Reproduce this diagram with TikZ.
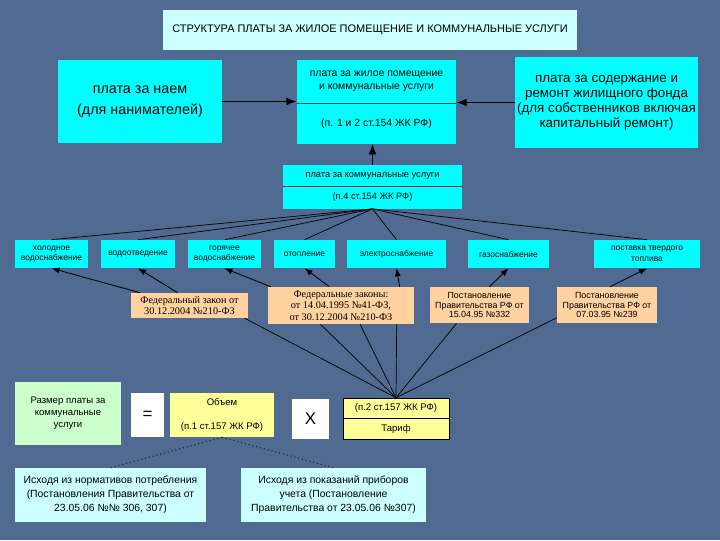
\documentclass[tikz,border=0pt]{standalone}
\usepackage{fontspec}
\setmainfont{Liberation Sans}
\newfontfamily\lawfont{Liberation Serif}
\usetikzlibrary{positioning,arrows.meta,calc}
\definecolor{bgc}{RGB}{80,106,145}
\definecolor{cyanc}{RGB}{0,255,255}
\definecolor{palec}{RGB}{204,255,255}
\definecolor{lawc}{RGB}{255,210,160}
\definecolor{greenc}{RGB}{204,255,204}
\definecolor{yellowc}{RGB}{255,255,153}
\tikzset{
  headbox/.style  = {fill=palec, inner sep=0pt, font=\fontsize{7.8}{9}\selectfont},
  paybox/.style   = {fill=cyanc, inner sep=0pt, align=center},
  partbox/.style  = {fill=cyanc, inner sep=0pt, align=center, font=\fontsize{7.4}{9.6}\selectfont},
  servbox/.style  = {fill=cyanc, inner sep=0pt, align=center, minimum height=0.7cm,
                     font=\fontsize{6}{7.6}\selectfont},
  lawbox/.style   = {fill=lawc, inner sep=0pt, align=center, font=\lawfont\fontsize{7.3}{8.2}\selectfont},
  postbox/.style  = {fill=lawc, inner sep=0pt, align=center, font=\fontsize{6.3}{7.1}\selectfont},
  formbox/.style  = {inner sep=0pt, align=center, font=\fontsize{6.8}{8.5}\selectfont},
  signbox/.style  = {fill=white, inner sep=0pt, font=\fontsize{12}{14}\selectfont},
  basebox/.style  = {fill=palec, inner sep=0pt, align=center, minimum height=1.35cm,
                     font=\fontsize{7.4}{9.9}\selectfont},
  fatarrow/.style = {-{Latex[length=2.6mm,width=2mm]}, line width=1.3pt},
  lawarrow/.style = {-{Latex[length=2mm,width=1.5mm]}, line width=0.6pt},
  fanline/.style  = {line width=0.5pt},
  divider/.style  = {line width=0.5pt, draw=black!80},
  dotline/.style  = {dotted, line width=0.8pt, draw=black!85},
}

\begin{document}
\begin{tikzpicture}[x=0.025cm, y=-0.025cm]
\path[fill=bgc] (0,0) rectangle (720,540);

% payments
\node[headbox, minimum width=10.35cm, minimum height=1cm] (head) at (370,30)
  {СТРУКТУРА ПЛАТЫ ЗА ЖИЛОЕ ПОМЕЩЕНИЕ И КОММУНАЛЬНЫЕ УСЛУГИ};
\node[paybox, minimum width=4.1cm, minimum height=2.075cm, font=\fontsize{10.2}{15}\selectfont]
  (naem) at (140,101.5) {плата за наем\\(для нанимателей)};
\node[partbox, minimum width=3.975cm, minimum height=1.075cm] (zhil) at (376.5,81.5)
  {плата за жилое помещение\\и коммунальные услуги};
\node[partbox, minimum width=3.975cm, minimum height=1cm, below=0pt of zhil] (zhilref)
  {(п. 1 и 2 ст.154 ЖК РФ)};
\node[paybox, minimum width=4.575cm, minimum height=2.275cm, font=\fontsize{9.5}{10.6}\selectfont]
  (soderzh) at (606.5,102.5)
  {плата за содержание и\\ремонт жилищного фонда\\(для собственников включая\\капитальный ремонт)};
\node[partbox, minimum width=4.475cm, minimum height=0.525cm, font=\fontsize{6.6}{8}\selectfont]
  (komm) at (372.5,175.5) {плата за коммунальные услуги};
\node[partbox, minimum width=4.475cm, minimum height=0.55cm, font=\fontsize{6.6}{8}\selectfont,
  below=0pt of komm] (kommref) {(п.4 ст.154 ЖК РФ)};

\draw[divider] (zhil.south west) -- (zhil.south east);
\draw[divider] (komm.south west) -- (komm.south east);
\draw[fatarrow] (naem.east) -- (naem.east -| zhil.west);
\draw[fatarrow] (soderzh.west) -- (soderzh.west -| zhil.east);
\draw[fatarrow] (komm.north) -- (komm.north |- zhilref.south);

% services
\node[servbox, minimum width=1.825cm] (hol) at (51.5,254) {холодное\\водоснабжение};
\node[servbox, minimum width=1.85cm] (vodootv) at (138,254) {водоотведение};
\node[servbox, minimum width=1.825cm] (gor) at (224.5,254) {горячее\\водоснабжение};
\node[servbox, minimum width=1.525cm] (otop) at (304.5,254) {отопление};
\node[servbox, minimum width=2.475cm] (elek) at (396.5,254) {электроснабжение};
\node[servbox, minimum width=2.025cm] (gaz) at (508.5,254) {газоснабжение};
\node[servbox, minimum width=2.65cm] (topl) at (647,254) {поставка твердого\\топлива};

\foreach \s in {hol,vodootv,gor,otop,elek,gaz,topl}
  \draw[fanline] (kommref.south) -- (\s.north);

% laws
\node[lawbox, minimum width=2.925cm, minimum height=0.625cm] (zakon) at (189.5,305.5)
  {Федеральный закон от\\30.12.2004 №210-ФЗ};
\node[lawbox, minimum width=3.65cm, minimum height=0.925cm] (zakony) at (341,305.5)
  {Федеральные законы:\\от 14.04.1995 №41-ФЗ,\\от 30.12.2004 №210-ФЗ};
\node[postbox, minimum width=2.475cm, minimum height=0.9cm] (post332) at (479.5,305)
  {Постановление\\Правительства РФ от\\15.04.95 №332};
\node[postbox, minimum width=2.5cm, minimum height=0.9cm] (post239) at (607,305)
  {Постановление\\Правительства РФ от\\07.03.95 №239};

\draw[lawarrow] ($(zakon.north west)!0.08!(zakon.north east)$) -- (hol.south);
\draw[lawarrow] ($(zakon.north west)!0.4!(zakon.north east)$) -- (vodootv.south);
\draw[lawarrow] ($(zakony.north west)!0.02!(zakony.north east)$) -- (gor.south);
\draw[lawarrow] ($(zakony.north west)!0.42!(zakony.north east)$) -- (otop.south);
\draw[lawarrow] ($(zakony.north west)!0.9!(zakony.north east)$) -- (elek.south);
\draw[lawarrow] ($(post332.north west)!0.6!(post332.north east)$) -- (gaz.south);
\draw[lawarrow] ($(post239.north west)!0.53!(post239.north east)$) -- (topl.south);

% formula
\node[formbox, fill=greenc, minimum width=2.65cm, minimum height=1.575cm] (razmer) at (68,413.5)
  {Размер платы за\\коммунальные\\услуги};
\node[signbox, minimum width=0.825cm, minimum height=1.1cm] (ravno) at (147.5,415) {=};
\node[formbox, fill=yellowc, minimum width=2.6cm, minimum height=1.1cm] (obem) at (222,415)
  {Объем\\[3.2mm](п.1 ст.157 ЖК РФ)};
\node[signbox, minimum width=0.925cm, minimum height=1cm] (umnozh) at (310.5,419) {X};
\node[formbox, fill=yellowc, draw=black, line width=0.4pt, minimum width=2.65cm, minimum height=0.5cm]
  (tarifref) at (396,408) {(п.2 ст.157 ЖК РФ)};
\node[formbox, fill=yellowc, draw=black, line width=0.4pt, minimum width=2.65cm, minimum height=0.525cm,
  below=0pt of tarifref] (tarif) {Тариф};

\draw[fanline] ($(zakon.south west)!0.97!(zakon.south east)$) -- (tarifref.north);
\foreach \f in {0.36,0.63,0.88}
  \draw[fanline] ($(zakony.south west)!\f!(zakony.south east)$) -- (tarifref.north);
\draw[fanline] ($(post332.south west)!0.27!(post332.south east)$) -- (tarifref.north);
\draw[fanline] ($(post239.south west)!0.15!(post239.north west)$) -- (tarifref.north);

% volume sources
\node[basebox, minimum width=4.775cm] (norm) at (110.5,495)
  {Исходя из нормативов потребления\\(Постановления Правительства от\\23.05.06 №№ 306, 307)};
\node[basebox, minimum width=4.625cm] (prib) at (333.5,495)
  {Исходя из показаний приборов\\учета (Постановление\\Правительства от 23.05.06 №307)};

\draw[dotline] (obem.south) -- (norm.north);
\draw[dotline] (obem.south) -- (prib.north);

\end{tikzpicture}
\end{document}
